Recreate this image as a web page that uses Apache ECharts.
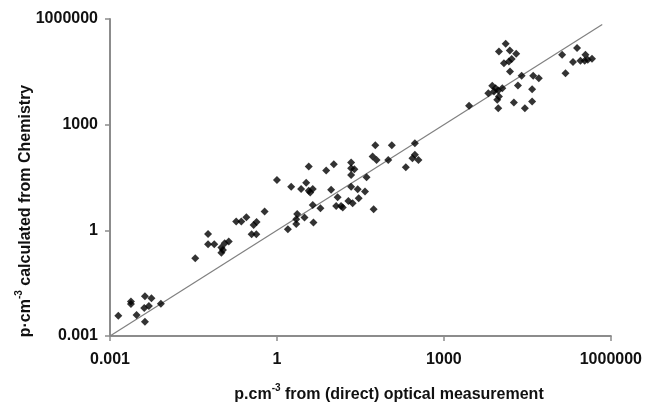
<!DOCTYPE html>
<html>
<head>
<meta charset="utf-8">
<script src="https://cdn.jsdelivr.net/npm/echarts@6/dist/echarts.min.js"></script>
<style>html,body{margin:0;padding:0;background:#fff}#c{width:645px;height:407px}</style>
</head>
<body>
<div id="c"></div>
<script>
// p.cm^-3 from (direct) optical measurement
var opticalMeasured = [
  0.00141,0.00238,0.00238,0.0030,0.00424,0.00555,0.00412,0.0050,0.00424,0.0082,
  0.034,0.0578,0.0578,0.0747,0.1004,0.1004,0.115,0.136,0.107,0.185,0.229,0.282,0.43,0.381,0.351,0.426,0.60,
  1.57,2.31,2.22,2.22,3.13,4.53,4.4,6.04,
  1.0,1.80,3.73,3.35,2.72,3.73,4.4,3.96,7.66,10.5,9.4,
  12.3,11.6,14.2,15.2,19.2,22.9,29.4,21.5,21.5,24.6,21.5,21.5,28.2,38.2,40.8,54.6,
  58.5,116,52.4,61.7,100,207,301,301,272,349,
  2830,6280,7400,8510,9480,11200,7940,9100,9750,9480,18100,21400,24900,28500,38500,38500,40200,50800,
  12900,9750,15300,19900,12000,14700,16500,15400,
  133000,153000,209000,247000,349000,284000,339000,384000,458000
];
// p.cm^-3 calculated from Chemistry
var chemistryCalculated = [
  0.00378,0.00955,0.0081,0.00395,0.0134,0.0118,0.00624,0.0071,0.00255,0.00828,
  0.161,0.79,0.403,0.403,0.323,0.232,0.431,0.478,0.277,1.77,1.77,2.36,1.73,1.42,0.775,0.775,3.4,
  1.07,2.92,2.07,1.52,2.32,1.66,5.27,4.25,
  27,17.4,64.6,22.6,15,13.2,15,11.8,49.7,75.5,14.1,
  8.7,4.93,4.93,4.42,6.84,5.89,8.17,83.8,58,54.5,37.5,17.4,14.7,12.6,32.3,3.97,
  262,262,124,100,100,62,298,139,112,100,
  3420,7850,12650,10900,9310,10900,8710,5070,6280,2940,4250,12900,24300,2940,4530,10200,24300,20900,
  197000,119000,127000,103000,55800,62100,72600,32300,
  96100,29000,59700,149000,96100,65000,65000,69300,74000
];
// 1:1 reference line endpoints
var identityLine = [0.001, 700000];
var tickLabels = ['0.001', '1', '1000', '1000000'];
var axisMin = 0.001, axisMax = 1000000;
var xTitle = ['p.cm', '-3', ' from (direct) optical measurement'];
var yTitle = ['p·cm', '-3', ' calculated from Chemistry'];

var points = opticalMeasured.map(function (x, i) { return [x, chemistryCalculated[i]]; });
var lineData = identityLine.map(function (v) { return [v, v]; });

function fmt(v) {
  var e = Math.round(Math.log10(v));
  var idx = (e + 3) / 3;
  return tickLabels[idx] !== undefined ? tickLabels[idx] : '';
}
function richTitle(parts) {
  return '{b|' + parts[0] + '}{s|' + parts[1] + '}{b|' + parts[2] + '}';
}
var titleRich = {
  b: { fontFamily: 'Liberation Sans', fontWeight: 'bold', fontSize: 16, fill: '#111', color: '#111' },
  s: { fontFamily: 'Liberation Sans', fontWeight: 'bold', fontSize: 10, fill: '#111', color: '#111', verticalAlign: 'top', lineHeight: 24 }
};

var axisCommon = {
  type: 'log', logBase: 10, min: axisMin, max: axisMax, interval: 3,
  axisLine: { show: true, lineStyle: { color: '#8c8c8c', width: 2 } },
  axisTick: { show: true, length: 5, lineStyle: { color: '#8c8c8c', width: 1.5 } },
  minorTick: { show: false },
  splitLine: { show: false },
  axisLabel: { formatter: fmt, margin: 12, color: '#111', fontFamily: 'Liberation Sans', fontWeight: 'bold', fontSize: 16 }
};
var xAxisOpt = Object.assign({}, axisCommon, {
  axisLabel: Object.assign({}, axisCommon.axisLabel, { margin: 16 })
});

var chart = echarts.init(document.getElementById('c'));
chart.setOption({
  animation: false,
  grid: { left: 110, right: 33, top: 19, bottom: 71, containLabel: false },
  xAxis: xAxisOpt,
  yAxis: axisCommon,
  graphic: [
    {
      type: 'text', x: 389, y: 395,
      style: { text: richTitle(xTitle), rich: titleRich, align: 'center', verticalAlign: 'middle' }
    },
    {
      type: 'text', x: 26, y: 211, rotation: Math.PI / 2,
      style: { text: richTitle(yTitle), rich: titleRich, align: 'center', verticalAlign: 'middle' }
    }
  ],
  series: [
    {
      type: 'line', data: lineData, symbol: 'none', silent: true,
      lineStyle: { color: '#808080', width: 1.2 }, z: 1
    },
    {
      type: 'scatter', data: points, symbol: 'diamond', symbolSize: 8,
      itemStyle: { color: '#000' }, z: 2
    }
  ]
});
</script>
</body>
</html>
